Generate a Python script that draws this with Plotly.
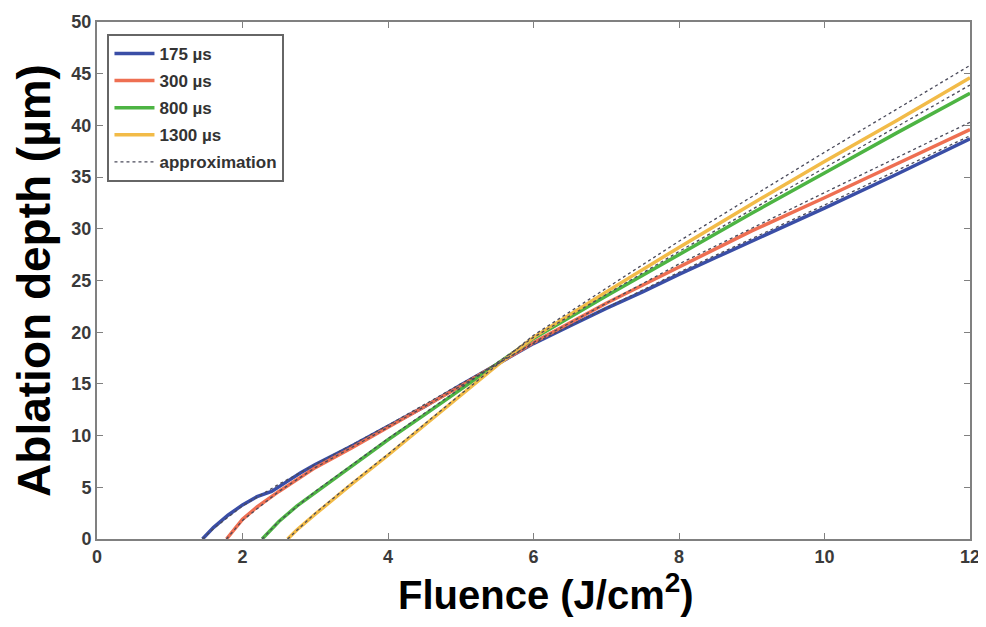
import plotly.graph_objects as go

# ---------------------------------------------------------------------------
# DATOS
# ---------------------------------------------------------------------------

x_175 = [1.45, 1.6, 1.8, 2.0, 2.2, 2.4, 2.6, 2.8, 3.0, 3.2, 3.5, 4.0, 4.5,
         5.0, 5.5, 6.0, 6.5, 7.0, 7.5, 8.0, 8.5, 9.0, 9.5, 10, 11, 12]
y_175 = [0, 1.1, 2.3, 3.3, 4.1, 4.6, 5.5, 6.4, 7.2, 7.9, 9.0, 10.9, 12.8,
         14.9, 16.9, 18.9, 20.6, 22.3, 23.9, 25.6, 27.2, 28.8, 30.4, 32.0, 35.3, 38.7]

x_300 = [1.78, 1.9, 2.0, 2.2, 2.5, 3.0, 3.5, 4.0, 4.5, 5.0, 5.5, 6.0, 7, 8, 9, 10, 11, 12]
y_300 = [0, 1.0, 1.9, 3.1, 4.6, 6.9, 8.8, 10.8, 12.8, 14.8, 16.9, 19.0,
         22.8, 26.3, 29.8, 33.0, 36.3, 39.6]

x_800 = [2.27, 2.4, 2.5, 2.75, 3.0, 3.5, 4.0, 4.5, 5.0, 5.5, 6.0, 7, 8, 9, 10, 11, 12]
y_800 = [0, 1.0, 1.7, 3.2, 4.5, 7.0, 9.6, 12.0, 14.5, 17.0, 19.4, 23.5, 27.5,
         31.5, 35.4, 39.3, 43.1]

x_1300 = [2.62, 2.75, 3.0, 3.25, 3.5, 4.0, 4.5, 5.0, 5.5, 6.0, 7, 8, 9, 10, 11, 12]
y_1300 = [0, 0.9, 2.4, 3.9, 5.3, 8.1, 11.0, 13.9, 16.8, 19.5, 23.9, 28.2, 32.4,
          36.5, 40.5, 44.6]

# aproximaciones (punteadas)
xa_175 = [1.45, 1.6, 2.0, 2.5, 3.0, 4.0, 5.0, 6.0, 8.0, 10, 12]
ya_175 = [0, 1.0, 3.2, 5.3, 7.2, 11.0, 15.0, 18.9, 25.8, 32.3, 39.0]
xa_300 = [1.78, 1.9, 2.0, 2.5, 3.0, 4.0, 5.0, 6.0, 8.0, 10, 12]
ya_300 = [0, 1.0, 1.8, 4.6, 6.9, 10.8, 14.8, 19.0, 26.6, 33.5, 40.3]
xa_800 = [2.27, 2.5, 3.0, 4.0, 5.0, 6.0, 8.0, 10, 12]
ya_800 = [0, 1.7, 4.6, 9.7, 14.6, 19.5, 27.8, 35.9, 43.9]
xa_1300 = [2.62, 3.0, 3.5, 4.0, 5.0, 6.0, 8.0, 10, 12]
ya_1300 = [0, 2.5, 5.4, 8.2, 14.0, 19.7, 28.8, 37.4, 45.8]

series = [
    ('175 µs', x_175, y_175, '#3a4ea6'),
    ('300 µs', x_300, y_300, '#ee6f52'),
    ('800 µs', x_800, y_800, '#4db443'),
    ('1300 µs', x_1300, y_1300, '#f2bb48'),
]
approx = [(xa_175, ya_175), (xa_300, ya_300), (xa_800, ya_800), (xa_1300, ya_1300)]

fig = go.Figure()

for name, xs, ys, col in series:
    fig.add_trace(go.Scatter(
        x=xs, y=ys, mode='lines', name=name, legendgroup=name,
        line=dict(color=col, width=3.5),
    ))

for i, (xs, ys) in enumerate(approx):
    fig.add_trace(go.Scatter(
        x=xs, y=ys, mode='lines', name='approximation',
        legendgroup='approx', showlegend=(i == 0),
        line=dict(color='#4a4a5a', width=1.3, dash='dot'),
    ))

axis_common = dict(
    showline=True, linecolor='#808080', linewidth=2, mirror='ticks',
    ticks='inside', ticklen=6, tickcolor='#808080',
    showgrid=False, zeroline=False,
    tickfont=dict(family='Arial', size=18, color='#3a3a3a', weight='bold'),
)

# la página tiene 8 px de margen en el body -> figura algo más pequeña
fig.update_layout(
    width=978, height=619,
    plot_bgcolor='white', paper_bgcolor='white',
    margin=dict(l=89, r=16, t=14, b=88),
    xaxis=dict(range=[0, 12], dtick=2, automargin=False, **axis_common),
    yaxis=dict(
        range=[0, 50], dtick=5, automargin=False,
        title=dict(text='Ablation depth (µm)', standoff=20,
                   font=dict(family='Arial', size=46, color='black', weight='bold')),
        **axis_common,
    ),
    annotations=[dict(
        text='Fluence (J/cm<sup>2</sup>)', showarrow=False,
        xref='paper', yref='paper', x=0.514, y=-0.103,
        xanchor='center', yanchor='middle',
        font=dict(family='Arial', size=40, color='black', weight='bold'),
    )],
    legend=dict(
        x=0.012, y=0.977, xanchor='left', yanchor='top',
        bgcolor='white', bordercolor='#666666', borderwidth=2,
        font=dict(family='Arial', size=17, color='#333333', weight='bold'),
        traceorder='grouped', tracegroupgap=2, itemwidth=40,
    ),
)

fig.write_html("out.html")
